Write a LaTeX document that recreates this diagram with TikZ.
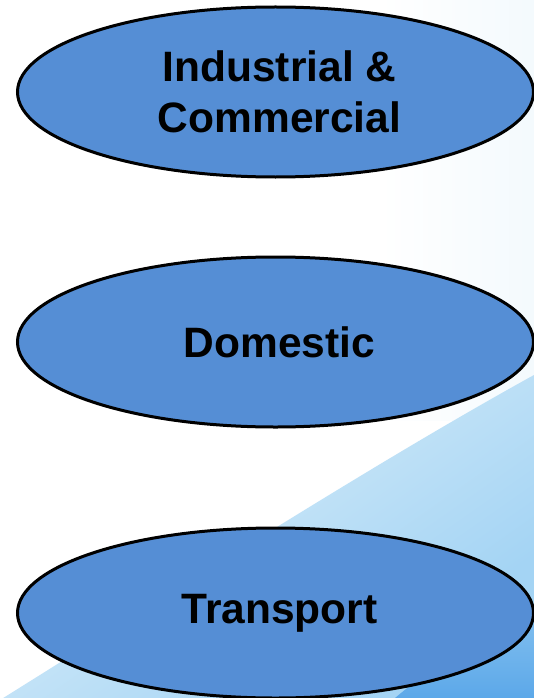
\documentclass[tikz,border=0pt]{standalone}
\usepackage{fontspec}
\setmainfont{Liberation Sans}
\usetikzlibrary{shapes.geometric}
\definecolor{ovalfill}{RGB}{85,142,213}
\definecolor{skypale}{RGB}{236,246,252}
\definecolor{skylight}{RGB}{206,232,248}
\definecolor{skymid}{RGB}{164,212,244}
\definecolor{skydeep}{RGB}{92,168,233}
\pgfdeclareverticalshading{swoosh}{100bp}{
  color(0bp)=(skymid); color(35bp)=(skymid); color(58bp)=(skylight);
  color(68bp)=(skypale); color(100bp)=(skypale)}
\tikzset{
  sector/.style={ellipse, draw=black, line width=3pt, fill=ovalfill,
    minimum width=516pt, minimum height=170pt, inner sep=0pt,
    align=center, font=\fontsize{42.5}{51}\selectfont\bfseries, text=black}
}
\begin{document}
\begin{tikzpicture}[x=1pt,y=-1pt]
  \useasboundingbox (0,0) rectangle (534,698);
  % background with a soft blue swoosh in the lower right
  \fill[white] (0,0) rectangle (534,698);
  \shade[left color=white, right color=skypale!60] (380,0) rectangle (534,420);
  \begin{scope}
    \clip (0,700) .. controls (200,575) and (380,460) .. (534,375) -- (534,698) -- (0,698) -- cycle;
    \shade[shading=swoosh, shading angle=35] (-100,300) rectangle (640,760);
  \end{scope}
  \begin{scope}
    \clip (395,698) .. controls (440,660) and (490,630) .. (534,605) -- (534,698) -- cycle;
    \shade[top color=skymid!60!skydeep, bottom color=skydeep] (395,600) rectangle (534,698);
  \end{scope}
  % the three sectors
  \node[sector] (ind) at (275.5,92) {\hspace*{8pt}Industrial \&\\\hspace*{8pt}Commercial};
  \node[sector] (dom) at (275.5,342) {\hspace*{8pt}Domestic};
  \node[sector] (tra) at (275.5,613) {\hspace*{8pt}Transport};
\end{tikzpicture}
\end{document}
